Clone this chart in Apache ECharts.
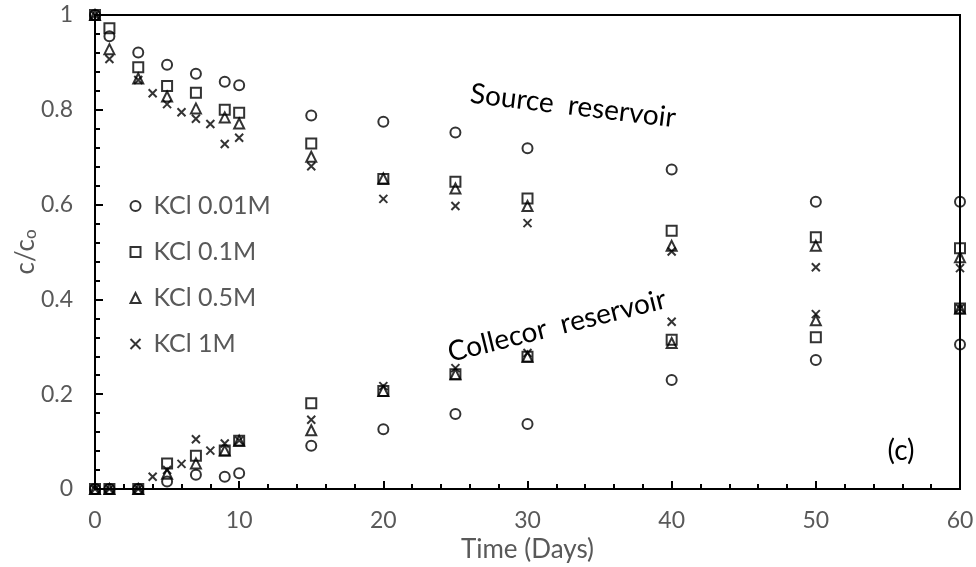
<!DOCTYPE html>
<html>
<head>
<meta charset="utf-8">
<script src="https://cdn.jsdelivr.net/npm/echarts@6/dist/echarts.min.js"></script>
<style>html,body{margin:0;padding:0;background:#fff}#c{width:976px;height:567px}</style>
</head>
<body>
<div id="c"></div>
<script>
// Days sampled
var daysMain = [0, 1, 3, 5, 7, 9, 10, 15, 20, 25, 30, 40, 50, 60];
var days1M   = [0, 1, 3, 4, 5, 6, 7, 8, 9, 10, 15, 20, 25, 30, 40, 50, 60];

// Source reservoir c/co
var src001 = [1.0, 0.955, 0.921, 0.895, 0.876, 0.859, 0.852, 0.788, 0.775, 0.752, 0.719, 0.674, 0.606, 0.606];
var src01  = [1.0, 0.972, 0.890, 0.850, 0.836, 0.800, 0.794, 0.729, 0.654, 0.648, 0.613, 0.545, 0.531, 0.508];
var src05  = [1.0, 0.928, 0.866, 0.828, 0.803, 0.784, 0.771, 0.701, 0.655, 0.634, 0.597, 0.513, 0.513, 0.489];
var src1   = [1.0, 0.907, 0.863, 0.835, 0.812, 0.795, 0.781, 0.770, 0.728, 0.741, 0.681, 0.612, 0.597, 0.561, 0.501, 0.468, 0.466];

// Collector reservoir c/co
var col001 = [0, 0, 0, 0.016, 0.030, 0.026, 0.033, 0.091, 0.126, 0.158, 0.137, 0.230, 0.272, 0.305];
var col01  = [0, 0, 0, 0.054, 0.070, 0.081, 0.102, 0.181, 0.207, 0.242, 0.279, 0.315, 0.320, 0.381];
var col05  = [0, 0, 0, 0.032, 0.054, 0.081, 0.102, 0.124, 0.207, 0.242, 0.279, 0.308, 0.356, 0.381];
var col1   = [0, 0, 0, 0.026, 0.040, 0.053, 0.105, 0.081, 0.096, 0.102, 0.146, 0.217, 0.255, 0.287, 0.353, 0.369, 0.381];

var seriesNames = ['KCl 0.01M', 'KCl 0.1M', 'KCl 0.5M', 'KCl 1M'];
var xTicks = [0, 10, 20, 30, 40, 50, 60];
var yTicks = [0, 0.2, 0.4, 0.6, 0.8, 1];

function pairs(days, src, col) {
  var out = [];
  for (var i = 0; i < days.length; i++) out.push([days[i], src[i]]);
  for (var j = 0; j < days.length; j++) out.push([days[j], col[j]]);
  return out;
}

var FONT = 'Lato';
var GREY = '#595959';
var crossPath = 'path://M0,0L10,10M10,0L0,10';
var markerStyle = { color: 'none', borderColor: '#000', borderWidth: 2 };

var chart = echarts.init(document.getElementById('c'), null, { renderer: 'canvas' });
chart.setOption({
  animation: false,
  backgroundColor: '#fff',
  textStyle: { fontFamily: FONT },
  grid: { left: 95, right: 16, top: 15, bottom: 78, outerBoundsMode: 'none', containLabel: false, show: true, borderColor: '#000', borderWidth: 2, backgroundColor: 'transparent' },
  legend: {
    orient: 'vertical', left: 128, top: 193, padding: 0, itemGap: 20, itemWidth: 10, itemHeight: 10,
    textStyle: { fontFamily: FONT, fontSize: 25, lineHeight: 26, color: GREY, padding: [0, 0, 0, 8] },
    data: seriesNames
  },
  xAxis: {
    type: 'value', min: xTicks[0], max: xTicks[xTicks.length - 1], interval: 10,
    name: 'Time (Days)', nameLocation: 'middle', nameGap: 48, nameMoveOverlap: false,
    nameTextStyle: { fontFamily: FONT, fontSize: 26, color: GREY },
    axisLine: { show: true, lineStyle: { color: '#000', width: 2 } },
    axisTick: { show: true, inside: true, length: 8, lineStyle: { color: '#000', width: 2 } },
    minorTick: { show: true, splitNumber: 5, length: 5, lineStyle: { color: '#000', width: 2 } },
    splitLine: { show: false },
    axisLabel: { margin: 20, fontFamily: FONT, fontSize: 23, color: GREY }
  },
  yAxis: {
    type: 'value', min: yTicks[0], max: yTicks[yTicks.length - 1], interval: 0.2,
    name: '{a|c/c}{b|o}', nameLocation: 'middle', nameGap: 56, nameRotate: 90, nameMoveOverlap: false,
    nameTextStyle: {
      rich: {
        a: { fontFamily: FONT, fontSize: 26, color: GREY },
        b: { fontFamily: FONT, fontSize: 17, color: GREY, padding: [0, 0, -10, 0] }
      }
    },
    axisLine: { show: true, lineStyle: { color: '#000', width: 2 } },
    axisTick: { show: true, inside: true, length: 8, lineStyle: { color: '#000', width: 2 } },
    minorTick: { show: true, splitNumber: 5, length: 5, lineStyle: { color: '#000', width: 2 } },
    splitLine: { show: false },
    axisLabel: { margin: 22, fontFamily: FONT, fontSize: 23, color: GREY }
  },
  series: [
    { name: seriesNames[0], type: 'scatter', clip: false, symbol: 'circle', symbolSize: 10, itemStyle: markerStyle, data: pairs(daysMain, src001, col001) },
    { name: seriesNames[1], type: 'scatter', clip: false, symbol: 'rect', symbolSize: 10, itemStyle: markerStyle, data: pairs(daysMain, src01, col01) },
    { name: seriesNames[2], type: 'scatter', clip: false, symbol: 'triangle', symbolSize: 10, itemStyle: markerStyle, data: pairs(daysMain, src05, col05) },
    { name: seriesNames[3], type: 'scatter', clip: false, symbol: crossPath, symbolSize: 8, itemStyle: markerStyle, data: pairs(days1M, src1, col1) }
  ],
  graphic: [
    { type: 'text', x: 573, y: 106, rotation: -0.12, style: { text: 'Source  reservoir', font: '28px ' + FONT, fill: '#000', align: 'center', verticalAlign: 'middle' } },
    { type: 'text', x: 557, y: 326, rotation: 0.245, style: { text: 'Collecor  reservoir', font: '28px ' + FONT, fill: '#000', align: 'center', verticalAlign: 'middle' } },
    { type: 'text', x: 901, y: 451, style: { text: '(c)', font: '28px ' + FONT, fill: '#000', align: 'center', verticalAlign: 'middle' } }
  ]
});
</script>
</body>
</html>
